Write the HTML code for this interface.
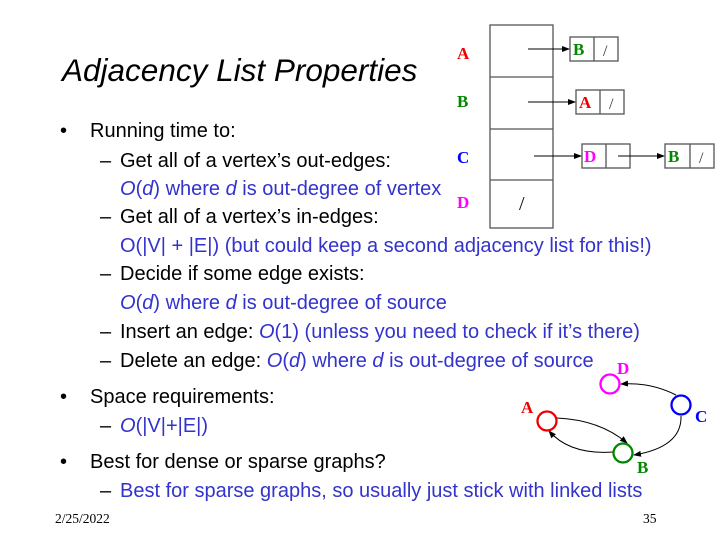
<html><head><style>
body{margin:0;width:720px;height:540px;background:#fff;position:relative;overflow:hidden;font-family:"Liberation Sans",sans-serif}
.t{position:absolute;white-space:nowrap;font-size:20px;line-height:20px}
.b{color:#3333cc}
.s{font-family:"Liberation Serif",serif;font-weight:bold;font-size:17px;position:absolute}
</style></head><body>
<div class="t" style="left:62px;top:54px;font-size:31.5px;line-height:32px;font-style:italic">Adjacency List Properties</div>
<div class="t" style="left:60px;top:121px">•</div><div class="t" style="left:90px;top:121px">Running time to:</div>
<div class="t" style="left:100px;top:151px">–</div><div class="t" style="left:120px;top:151px">Get all of a vertex’s out-edges:</div>
<div class="t b" style="left:120px;top:179px"><i>O</i>(<i>d</i>) where <i>d</i> is out-degree of vertex</div>
<div class="t" style="left:100px;top:207px">–</div><div class="t" style="left:120px;top:207px">Get all of a vertex’s in-edges:</div>
<div class="t b" style="left:120px;top:236px">O(|V| + |E|) (but could keep a second adjacency list for this!)</div>
<div class="t" style="left:100px;top:264px">–</div><div class="t" style="left:120px;top:264px">Decide if some edge exists:</div>
<div class="t b" style="left:120px;top:293px"><i>O</i>(<i>d</i>) where <i>d</i> is out-degree of source</div>
<div class="t" style="left:100px;top:322px">–</div><div class="t" style="left:120px;top:322px">Insert an edge: <span class="b"><i>O</i>(1) (unless you need to check if it’s there)</span></div>
<div class="t" style="left:100px;top:351px">–</div><div class="t" style="left:120px;top:351px">Delete an edge: <span class="b"><i>O</i>(<i>d</i>) where <i>d</i> is out-degree of source</span></div>
<div class="t" style="left:60px;top:387px">•</div><div class="t" style="left:90px;top:387px">Space requirements:</div>
<div class="t" style="left:100px;top:416px">–</div><div class="t b" style="left:120px;top:416px"><i>O</i>(|V|+|E|)</div>
<div class="t" style="left:60px;top:452px">•</div><div class="t" style="left:90px;top:452px">Best for dense or sparse graphs?</div>
<div class="t" style="left:100px;top:481px">–</div><div class="t b" style="left:120px;top:481px">Best for sparse graphs, so usually just stick with linked lists</div>
<div class="t" style="left:55px;top:509px;font-family:'Liberation Serif',serif;font-size:13.5px">2/25/2022</div>
<div class="t" style="left:643px;top:509px;font-family:'Liberation Serif',serif;font-size:13.5px">35</div>
<svg width="720" height="540" style="position:absolute;left:0;top:0">
<defs><marker id="a" markerWidth="8" markerHeight="8" refX="7" refY="4" orient="auto" markerUnits="userSpaceOnUse"><path d="M0,1L8,4L0,7z" fill="#000"/></marker></defs>
<g fill="none" stroke="#555" stroke-width="1.3">
<rect x="490" y="25" width="63" height="203"/>
<line x1="490" y1="77" x2="553" y2="77"/><line x1="490" y1="129" x2="553" y2="129"/><line x1="490" y1="180" x2="553" y2="180"/>
<rect x="570" y="37" width="48" height="24"/><line x1="594" y1="37" x2="594" y2="61"/>
<rect x="576" y="90" width="48" height="24"/><line x1="600" y1="90" x2="600" y2="114"/>
<rect x="582" y="144" width="48" height="24"/><line x1="606" y1="144" x2="606" y2="168"/>
<rect x="665" y="144" width="49" height="24"/><line x1="690" y1="144" x2="690" y2="168"/>
</g>
<g stroke="#000" stroke-width="1" marker-end="url(#a)">
<line x1="528" y1="49" x2="569" y2="49"/><line x1="528" y1="102" x2="575" y2="102"/>
<line x1="534" y1="156" x2="581" y2="156"/><line x1="618" y1="156" x2="664" y2="156"/>
<path d="M557,418 Q600,420 627,443" fill="none"/>
<path d="M613,452 Q570,455 549,431" fill="none"/>
<path d="M676,395 Q650,382 621,384" fill="none"/>
<path d="M681,416 Q682,447 634,455" fill="none"/>
</g>
<g fill="none" stroke-width="2.3">
<circle cx="610" cy="384" r="9.5" stroke="#f0f"/>
<circle cx="547" cy="421" r="9.5" stroke="#e00"/>
<circle cx="681" cy="405" r="9.5" stroke="#00f"/>
<circle cx="623" cy="453" r="9.5" stroke="#080"/>
</g>
<g font-family="Liberation Serif,serif" font-size="16" fill="#333">
<text x="603" y="56">/</text><text x="609" y="109">/</text><text x="699" y="163">/</text>
<text x="519" y="210" font-size="20" fill="#000">/</text>
</g>
</svg>
<div class="s" style="left:457px;top:44px;color:#e00">A</div>
<div class="s" style="left:457px;top:92px;color:#080">B</div>
<div class="s" style="left:457px;top:148px;color:#00f">C</div>
<div class="s" style="left:457px;top:193px;color:#f0f">D</div>
<div class="s" style="left:573px;top:40px;color:#080">B</div>
<div class="s" style="left:579px;top:93px;color:#e00">A</div>
<div class="s" style="left:584px;top:147px;color:#f0f">D</div>
<div class="s" style="left:668px;top:147px;color:#080">B</div>
<div class="s" style="left:617px;top:359px;color:#f0f">D</div>
<div class="s" style="left:521px;top:398px;color:#e00">A</div>
<div class="s" style="left:695px;top:407px;color:#00f">C</div>
<div class="s" style="left:637px;top:458px;color:#080">B</div>
</body></html>
